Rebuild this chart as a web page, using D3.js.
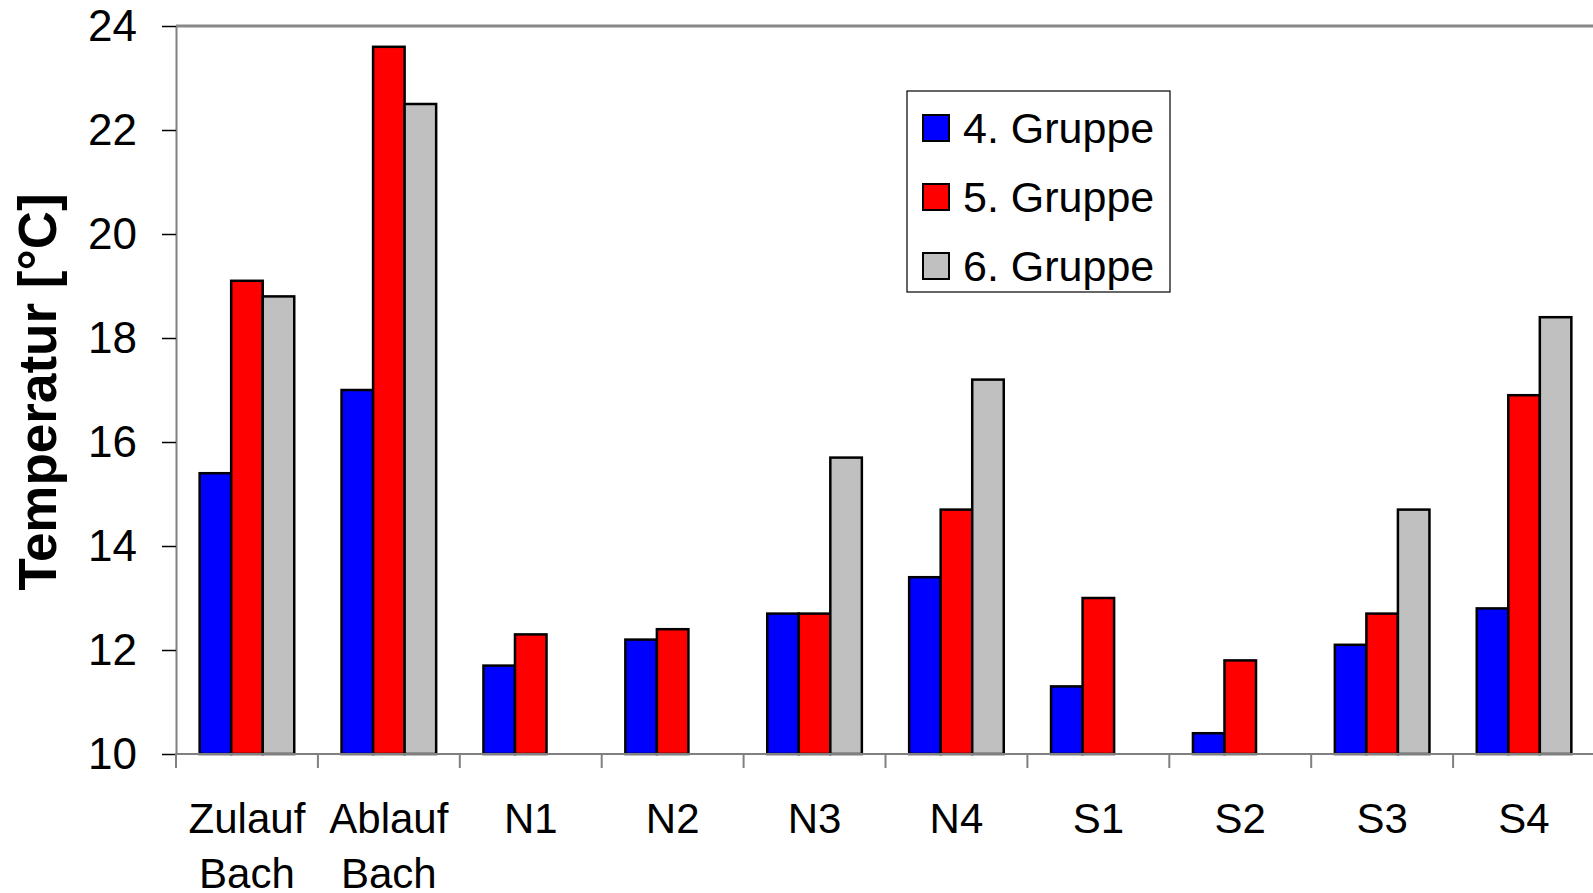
<!DOCTYPE html>
<html>
<head>
<meta charset="utf-8">
<script src="https://cdn.jsdelivr.net/npm/d3@7"></script>
<style>
  html, body { margin: 0; padding: 0; background: #fff; overflow: hidden; }
  text { font-family: "Liberation Sans", Arial, sans-serif; }
</style>
</head>
<body>
<svg id="chart" width="1593" height="893"></svg>
<script>
// categories (two-line labels split on \n)
const categories = ['Zulauf\nBach', 'Ablauf\nBach', 'N1', 'N2', 'N3', 'N4', 'S1', 'S2', 'S3', 'S4'];
const seriesNames = ['4. Gruppe', '5. Gruppe', '6. Gruppe'];
const seriesColors = ['#0000ff', '#ff0000', '#c0c0c0'];

// temperature values per series (null = no measurement)
const gruppe4 = [15.4, 17.0, 11.7, 12.2, 12.7, 13.4, 11.3, 10.4, 12.1, 12.8];
const gruppe5 = [19.1, 23.6, 12.3, 12.4, 12.7, 14.7, 13.0, 11.8, 12.7, 16.9];
const gruppe6 = [18.8, 22.5, null, null, 15.7, 17.2, null, null, 14.7, 18.4];
const yTicks = [10, 12, 14, 16, 18, 20, 22, 24];

const series = [gruppe4, gruppe5, gruppe6];

const margin = {left: 176, top: 26, right: -2, bottom: 139};
const width = 1593 - margin.left - margin.right;
const height = 893 - margin.top - margin.bottom;

const svg = d3.select('#chart');
const g = svg.append('g')
  .attr('transform', `translate(${margin.left},${margin.top})`);

const x0 = d3.scaleBand()
  .domain(categories)
  .range([0, width])
  .paddingInner(1 / 3)
  .paddingOuter(1 / 6);

const x1 = d3.scaleBand()
  .domain(d3.range(series.length))
  .range([0, x0.bandwidth()]);

const y = d3.scaleLinear()
  .domain([10, 24])
  .range([height, 0]);

// top border of the plot area
g.append('line')
  .attr('x1', 0).attr('x2', width)
  .attr('y1', 0).attr('y2', 0)
  .style('stroke', '#888')
  .style('stroke-width', 3);

// bars
const groups = g.selectAll('g.cat')
  .data(categories)
  .enter().append('g')
  .attr('class', 'cat')
  .attr('transform', d => `translate(${x0(d)},0)`);

groups.selectAll('rect')
  .data((d, i) => series.map((s, k) => ({k: k, v: s[i]})).filter(e => e.v != null))
  .enter().append('rect')
  .attr('x', d => x1(d.k))
  .attr('y', d => y(d.v))
  .attr('width', x1.bandwidth())
  .attr('height', d => y(10) - y(d.v))
  .style('fill', d => seriesColors[d.k])
  .style('stroke', '#000')
  .style('stroke-width', 2.5);

// y axis
const yAxis = d3.axisLeft(y)
  .tickValues(yTicks)
  .tickSize(14)
  .tickPadding(25)
  .tickSizeOuter(0);

const yG = g.append('g')
  .attr('class', 'y axis')
  .call(yAxis);
yG.select('.domain').style('stroke', '#808080').style('stroke-width', 2);
yG.selectAll('g.tick line').style('stroke', '#000').style('stroke-width', 1.5);
yG.selectAll('g.tick text')
  .style('font-size', '44px')
  .style('fill', '#000')
  .attr('dy', '0.34em');

// x axis: ticks sit at category boundaries
const xG = g.append('g')
  .attr('class', 'x axis')
  .attr('transform', `translate(0,${height})`);

xG.append('line')
  .attr('x1', 0).attr('x2', width)
  .style('stroke', '#808080')
  .style('stroke-width', 2);

xG.selectAll('line.tick')
  .data(categories)
  .enter().append('line')
  .attr('class', 'tick')
  .attr('x1', d => x0(d) - x0.step() * x0.paddingOuter())
  .attr('x2', d => x0(d) - x0.step() * x0.paddingOuter())
  .attr('y1', 0).attr('y2', 14)
  .style('stroke', '#808080')
  .style('stroke-width', 2);

const xLabels = xG.selectAll('text.cat')
  .data(categories)
  .enter().append('text')
  .attr('class', 'cat')
  .attr('x', d => x0(d) + x0.bandwidth() / 2)
  .attr('y', 79)
  .attr('text-anchor', 'middle')
  .style('font-size', '42px')
  .style('fill', '#000');

xLabels.selectAll('tspan')
  .data(d => d.split('\n'))
  .enter().append('tspan')
  .attr('x', function() { return d3.select(this.parentNode).attr('x'); })
  .attr('dy', (d, i) => i === 0 ? 0 : 55)
  .text(d => d);

// y axis title
svg.append('text')
  .attr('transform', `translate(56,${margin.top + height / 2 + 2}) rotate(-90)`)
  .attr('text-anchor', 'middle')
  .style('font-size', '53px')
  .style('font-weight', 'bold')
  .style('fill', '#000')
  .text('Temperatur [°C]');

// legend
const legend = svg.append('g')
  .attr('transform', 'translate(907,91)');

legend.append('rect')
  .attr('width', 263)
  .attr('height', 201)
  .style('fill', '#fff')
  .style('stroke', '#000')
  .style('stroke-width', 1.2);

const items = legend.selectAll('g.item')
  .data(seriesNames)
  .enter().append('g')
  .attr('class', 'item')
  .attr('transform', (d, i) => `translate(16,${37 + i * 69})`);

items.append('rect')
  .attr('y', -13)
  .attr('width', 26)
  .attr('height', 26)
  .style('fill', (d, i) => seriesColors[i])
  .style('stroke', '#000')
  .style('stroke-width', 2);

items.append('text')
  .attr('x', 40)
  .attr('dy', '0.34em')
  .style('font-size', '43px')
  .style('fill', '#000')
  .text(d => d);
</script>
</body>
</html>
